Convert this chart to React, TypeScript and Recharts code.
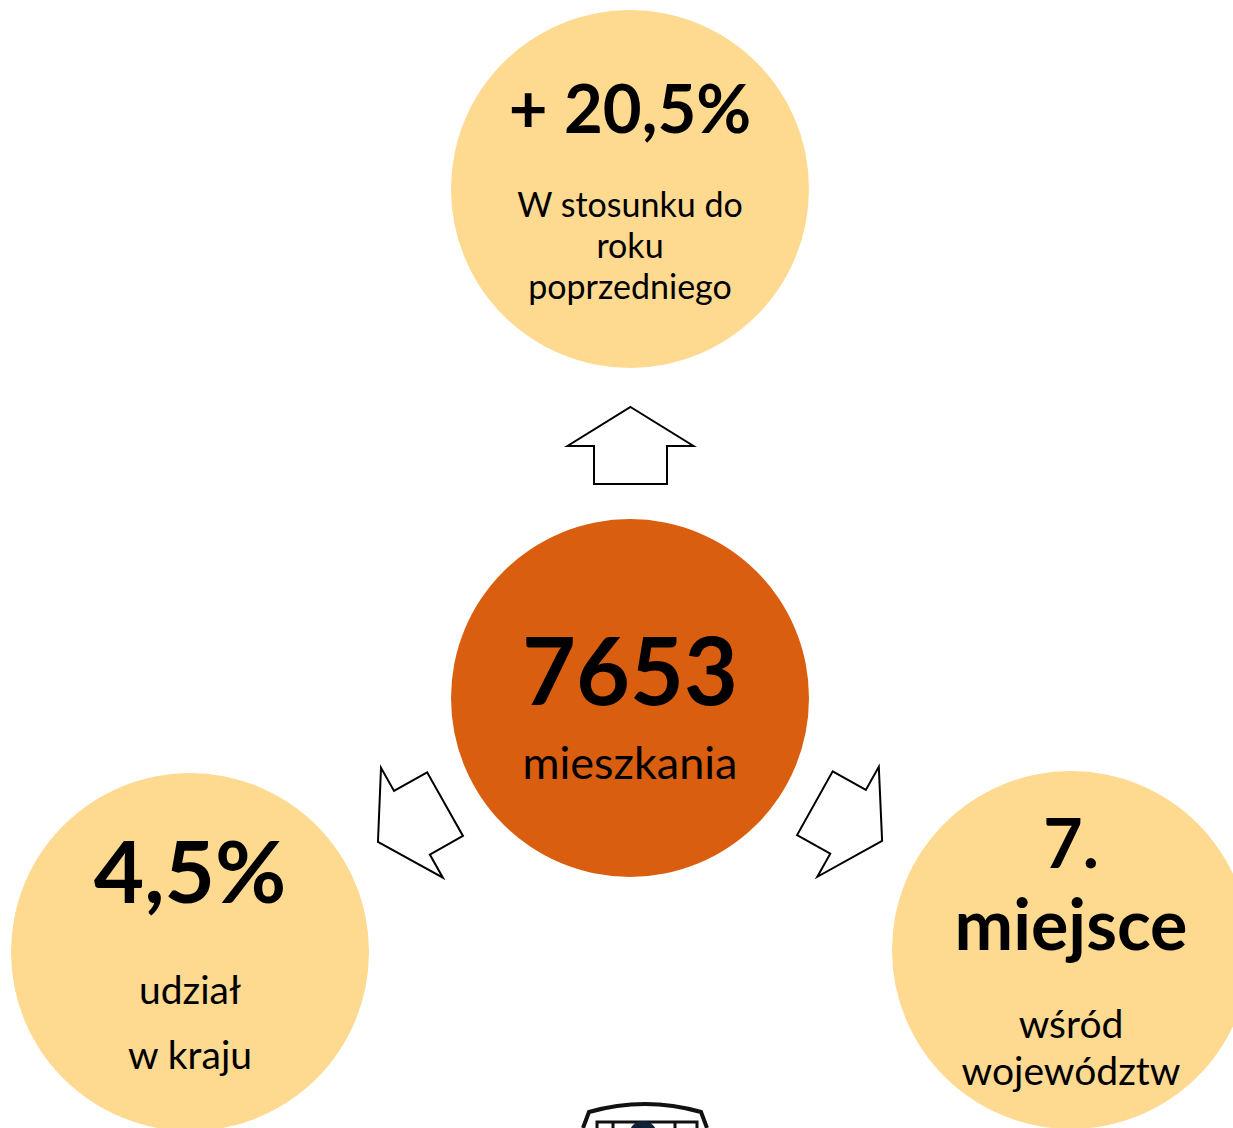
import { Scatter, ScatterChart, XAxis, YAxis } from "recharts";

const WIDTH = 1233;
const HEIGHT = 1128;
const FONT = "Lato, 'Open Sans', sans-serif";

// figures shown in the bubbles
const bubbleIds = ["change", "total", "share", "rank"];
const bubbleValues = ["+ 20,5%", "7653", "4,5%", "7."];
const bubbleUnits = [[], [], [], ["miejsce"]];
const bubbleCaptions = [
  ["W stosunku do", "roku", "poprzedniego"],
  ["mieszkania"],
  ["udział", "w kraju"],
  ["wśród", "województw"]
];

// arrows pointing from the centre figure to the others
const arrowIds = ["toChange", "toShare", "toRank"];

// layout only
const bubbleLayout: Record<string, any> = {
  change: { x: 630, y: 189, r: 179, fill: "#fed990", lines: [
    { y: -56, size: 67, weight: 700 },
    { y: 28, size: 34, weight: 400 },
    { y: 69, size: 34, weight: 400 },
    { y: 110, size: 34, weight: 400 }
  ] },
  total: { x: 630, y: 698, r: 179, fill: "#d95e0f", lines: [
    { y: 7, size: 93, weight: 700 },
    { y: 81, size: 45, weight: 400 }
  ] },
  share: { x: 190, y: 952, r: 179, fill: "#fed990", lines: [
    { y: -49, size: 87, weight: 700 },
    { y: 52, size: 39, weight: 400 },
    { y: 117, size: 39, weight: 400 }
  ] },
  rank: { x: 1071, y: 950, r: 179, fill: "#fed990", lines: [
    { y: -82, size: 68, weight: 700 },
    { y: 0, size: 70, weight: 700 },
    { y: 88, size: 39, weight: 400 },
    { y: 135, size: 39, weight: 400 }
  ] }
};

const arrowLayout: Record<string, { x: number; y: number; angle: number }> = {
  toChange: { x: 630.5, y: 445.5, angle: 0 },
  toShare: { x: 411.5, y: 823, angle: -119.4 },
  toRank: { x: 848.5, y: 822, angle: 119.2 }
};

const bubbles = bubbleIds.map((id, i) => ({
  id,
  x: bubbleLayout[id].x,
  y: bubbleLayout[id].y,
  lines: [bubbleValues[i], ...bubbleUnits[i], ...bubbleCaptions[i]]
}));

const arrows = arrowIds.map((id) => ({ id, ...arrowLayout[id] }));

const logo = [{ id: "logo", x: 645, y: 1128 }];

function Bubble(props: any) {
  const { cx, cy, payload } = props;
  const layout = bubbleLayout[payload.id];
  return (
    <g>
      <circle cx={cx} cy={cy} r={layout.r} fill={layout.fill} />
      {payload.lines.map((text: string, i: number) => (
        <text
          key={i}
          x={cx}
          y={cy + layout.lines[i].y}
          textAnchor="middle"
          fontFamily={FONT}
          fontSize={layout.lines[i].size}
          fontWeight={layout.lines[i].weight}
          fill="#000"
        >
          {text}
        </text>
      ))}
    </g>
  );
}

function Arrow(props: any) {
  const { cx, cy, payload } = props;
  // block arrow pointing up, centred on (0,0)
  const pts = [
    [0, -38.5], [63, 0.5], [36.5, 0.5], [36.5, 38.5],
    [-36.5, 38.5], [-36.5, 0.5], [-63, 0.5]
  ].map((p) => p.join(",")).join(" ");
  return (
    <polygon
      points={pts}
      transform={`translate(${cx},${cy}) rotate(${payload.angle})`}
      fill="#fff"
      stroke="#000"
      strokeWidth={2}
      strokeLinejoin="miter"
    />
  );
}

function Logo(props: any) {
  const { cx, cy } = props;
  return (
    <g transform={`translate(${cx},${cy})`}>
      <path d="M -62 0 L -56 -16 Q 0 -32 56 -16 L 62 0" fill="none" stroke="#111" strokeWidth={4} />
      <rect x={-48} y={-6} width={100} height={12} fill="none" stroke="#111" strokeWidth={3} />
      <line x1={-32} y1={-6} x2={-32} y2={0} stroke="#111" strokeWidth={3} />
      <line x1={30} y1={-6} x2={30} y2={0} stroke="#111" strokeWidth={3} />
      <circle cx={-2} cy={7} r={14} fill="#0f2238" />
    </g>
  );
}

export default function App() {
  return (
    <div style={{ position: "absolute", left: 0, top: 0, width: WIDTH, height: HEIGHT, background: "#fff" }}>
      <ScatterChart width={WIDTH} height={HEIGHT} margin={{ top: 0, right: 0, bottom: 0, left: 0 }}>
        <XAxis type="number" dataKey="x" domain={[0, WIDTH]} hide />
        <YAxis type="number" dataKey="y" domain={[0, HEIGHT]} reversed hide />
        <Scatter data={arrows} shape={Arrow} isAnimationActive={false} />
        <Scatter data={bubbles} shape={Bubble} isAnimationActive={false} />
        <Scatter data={logo} shape={Logo} isAnimationActive={false} />
      </ScatterChart>
    </div>
  );
}
